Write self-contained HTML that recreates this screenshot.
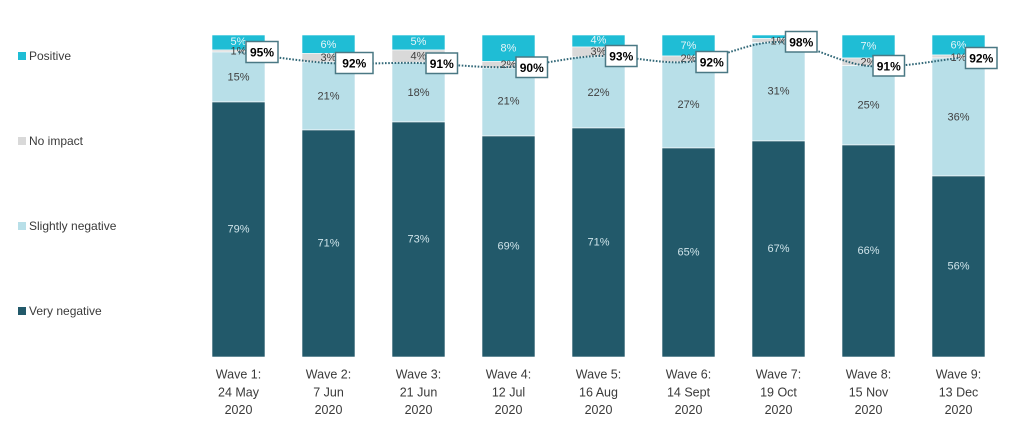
<!DOCTYPE html>
<html>
<head>
<meta charset="utf-8">
<style>
  html,body{margin:0;padding:0;background:#fff;}
  svg{display:block;}
  text{font-family:"Liberation Sans", Arial, sans-serif;}
</style>
</head>
<body>
<svg width="1012" height="444" viewBox="0 0 1012 444" xmlns="http://www.w3.org/2000/svg">
  <rect width="1012" height="444" fill="#fff"/>

  <!-- Legend -->
  <g font-size="12" fill="#3a3a3a" dominant-baseline="central">
    <rect x="18" y="52" width="8" height="8" fill="#1fbdd5"/>
    <text x="29" y="56">Positive</text>
    <rect x="18" y="137" width="8" height="8" fill="#d9d9d9"/>
    <text x="29" y="141">No impact</text>
    <rect x="18" y="222" width="8" height="8" fill="#b8dfe8"/>
    <text x="29" y="226">Slightly negative</text>
    <rect x="18" y="307" width="8" height="8" fill="#22596a"/>
    <text x="29" y="311">Very negative</text>
  </g>

  <!-- Bars -->
  <g stroke="#ffffff" stroke-width="0.6">
    <!-- Bar 1 -->
    <rect x="212" y="35" width="53" height="15" fill="#1fbdd5"/>
    <rect x="212" y="50" width="53" height="2" fill="#d9d9d9"/>
    <rect x="212" y="52" width="53" height="50" fill="#b8dfe8"/>
    <rect x="212" y="102" width="53" height="255" fill="#22596a"/>
    <!-- Bar 2 -->
    <rect x="302" y="35" width="53" height="18.5" fill="#1fbdd5"/>
    <rect x="302" y="53.5" width="53" height="8.5" fill="#d9d9d9"/>
    <rect x="302" y="62" width="53" height="68" fill="#b8dfe8"/>
    <rect x="302" y="130" width="53" height="227" fill="#22596a"/>
    <!-- Bar 3 -->
    <rect x="392" y="35" width="53" height="15" fill="#1fbdd5"/>
    <rect x="392" y="50" width="53" height="12.5" fill="#d9d9d9"/>
    <rect x="392" y="62.5" width="53" height="59.5" fill="#b8dfe8"/>
    <rect x="392" y="122" width="53" height="235" fill="#22596a"/>
    <!-- Bar 4 -->
    <rect x="482" y="35" width="53" height="26.5" fill="#1fbdd5"/>
    <rect x="482" y="61.5" width="53" height="6.5" fill="#d9d9d9"/>
    <rect x="482" y="68" width="53" height="68" fill="#b8dfe8"/>
    <rect x="482" y="136" width="53" height="221" fill="#22596a"/>
    <!-- Bar 5 -->
    <rect x="572" y="35" width="53" height="12" fill="#1fbdd5"/>
    <rect x="572" y="47" width="53" height="10" fill="#d9d9d9"/>
    <rect x="572" y="57" width="53" height="71" fill="#b8dfe8"/>
    <rect x="572" y="128" width="53" height="229" fill="#22596a"/>
    <!-- Bar 6 -->
    <rect x="662" y="35" width="53" height="21" fill="#1fbdd5"/>
    <rect x="662" y="56" width="53" height="6" fill="#d9d9d9"/>
    <rect x="662" y="62" width="53" height="86" fill="#b8dfe8"/>
    <rect x="662" y="148" width="53" height="209" fill="#22596a"/>
    <!-- Bar 7 -->
    <rect x="752" y="35" width="53" height="3.5" fill="#1fbdd5"/>
    <rect x="752" y="38.5" width="53" height="4" fill="#d9d9d9"/>
    <rect x="752" y="42.5" width="53" height="98.5" fill="#b8dfe8"/>
    <rect x="752" y="141" width="53" height="216" fill="#22596a"/>
    <!-- Bar 8 -->
    <rect x="842" y="35" width="53" height="23" fill="#1fbdd5"/>
    <rect x="842" y="58" width="53" height="7.5" fill="#d9d9d9"/>
    <rect x="842" y="65.5" width="53" height="79.5" fill="#b8dfe8"/>
    <rect x="842" y="145" width="53" height="212" fill="#22596a"/>
    <!-- Bar 9 -->
    <rect x="932" y="35" width="53" height="20" fill="#1fbdd5"/>
    <rect x="932" y="55" width="53" height="3" fill="#d9d9d9"/>
    <rect x="932" y="58" width="53" height="118" fill="#b8dfe8"/>
    <rect x="932" y="176" width="53" height="181" fill="#22596a"/>
  </g>

  <!-- Segment labels -->
  <g font-size="11" text-anchor="middle" dominant-baseline="central">
    <!-- positive (light text) -->
    <g fill="#e4f4f8">
      <text x="238.5" y="42">5%</text>
      <text x="328.5" y="45">6%</text>
      <text x="418.5" y="42">5%</text>
      <text x="508.5" y="48.5">8%</text>
      <text x="598.5" y="40.5">4%</text>
      <text x="688.5" y="46">7%</text>
      <text x="868.5" y="46.5">7%</text>
      <text x="958.5" y="45.5">6%</text>
    </g>
    <!-- no impact (dark text) -->
    <g fill="#404040">
      <text x="238.5" y="51.5">1%</text>
      <text x="328.5" y="58">3%</text>
      <text x="418.5" y="56.5">4%</text>
      <text x="508.5" y="65">2%</text>
      <text x="598.5" y="52">3%</text>
      <text x="688.5" y="59">2%</text>
      <text x="778.5" y="41.5">1%</text>
      <text x="868.5" y="62.5">2%</text>
      <text x="958.5" y="58">1%</text>
    </g>
    <!-- slightly negative -->
    <g fill="#404040">
      <text x="238.5" y="77.5">15%</text>
      <text x="328.5" y="96.5">21%</text>
      <text x="418.5" y="93">18%</text>
      <text x="508.5" y="101.5">21%</text>
      <text x="598.5" y="93">22%</text>
      <text x="688.5" y="105">27%</text>
      <text x="778.5" y="91.5">31%</text>
      <text x="868.5" y="105.5">25%</text>
      <text x="958.5" y="117.5">36%</text>
    </g>
    <!-- very negative -->
    <g fill="#cfe4ea">
      <text x="238.5" y="229.5">79%</text>
      <text x="328.5" y="243.5">71%</text>
      <text x="418.5" y="239.5">73%</text>
      <text x="508.5" y="246.5">69%</text>
      <text x="598.5" y="242.5">71%</text>
      <text x="688.5" y="252.5">65%</text>
      <text x="778.5" y="249">67%</text>
      <text x="868.5" y="251">66%</text>
      <text x="958.5" y="266.5">56%</text>
    </g>
  </g>

  <!-- Dotted total line -->
  <path d="M238.5,52 C253.5,53.83 298.5,61.17 328.5,63
           C358.5,64.83 388.5,62.33 418.5,63
           C448.5,63.67 478.5,68.17 508.5,67
           C538.5,65.83 568.5,56.83 598.5,56
           C628.5,55.17 658.5,64.33 688.5,62
           C718.5,59.67 748.5,41.33 778.5,42
           C808.5,42.67 838.5,63.33 868.5,66
           C898.5,68.67 943.5,59.33 958.5,58"
        fill="none" stroke="#2f6676" stroke-width="2" stroke-dasharray="1.6 1.6"/>

  <!-- Total boxes -->
  <g stroke="#4a7884" stroke-width="1.5" fill="#ffffff">
    <rect x="246" y="41.5" width="32" height="21"/>
    <rect x="335.5" y="52.5" width="37.5" height="21"/>
    <rect x="426" y="53" width="31.5" height="20.5"/>
    <rect x="516" y="57" width="31.5" height="20.5"/>
    <rect x="605.5" y="45.5" width="31.5" height="21"/>
    <rect x="696" y="51.5" width="31.5" height="21"/>
    <rect x="785.5" y="31.5" width="31.5" height="20.5"/>
    <rect x="873" y="55.5" width="31.5" height="20.5"/>
    <rect x="965.5" y="47.5" width="31.5" height="21"/>
  </g>
  <g font-size="12" font-weight="bold" fill="#000" text-anchor="middle" dominant-baseline="central">
    <text x="262" y="52.5">95%</text>
    <text x="354.25" y="63.5">92%</text>
    <text x="441.75" y="63.75">91%</text>
    <text x="531.75" y="67.75">90%</text>
    <text x="621.25" y="56.5">93%</text>
    <text x="711.75" y="62.5">92%</text>
    <text x="801.25" y="42.25">98%</text>
    <text x="888.75" y="66.25">91%</text>
    <text x="981.25" y="58.5">92%</text>
  </g>

  <!-- X axis labels -->
  <g font-size="12.5" fill="#3a3a3a" text-anchor="middle" dominant-baseline="central">
    <text x="238.5" y="374.5">Wave 1:</text><text x="238.5" y="392.5">24 May</text><text x="238.5" y="410">2020</text>
    <text x="328.5" y="374.5">Wave 2:</text><text x="328.5" y="392.5">7 Jun</text><text x="328.5" y="410">2020</text>
    <text x="418.5" y="374.5">Wave 3:</text><text x="418.5" y="392.5">21 Jun</text><text x="418.5" y="410">2020</text>
    <text x="508.5" y="374.5">Wave 4:</text><text x="508.5" y="392.5">12 Jul</text><text x="508.5" y="410">2020</text>
    <text x="598.5" y="374.5">Wave 5:</text><text x="598.5" y="392.5">16 Aug</text><text x="598.5" y="410">2020</text>
    <text x="688.5" y="374.5">Wave 6:</text><text x="688.5" y="392.5">14 Sept</text><text x="688.5" y="410">2020</text>
    <text x="778.5" y="374.5">Wave 7:</text><text x="778.5" y="392.5">19 Oct</text><text x="778.5" y="410">2020</text>
    <text x="868.5" y="374.5">Wave 8:</text><text x="868.5" y="392.5">15 Nov</text><text x="868.5" y="410">2020</text>
    <text x="958.5" y="374.5">Wave 9:</text><text x="958.5" y="392.5">13 Dec</text><text x="958.5" y="410">2020</text>
  </g>
</svg>
</body>
</html>
